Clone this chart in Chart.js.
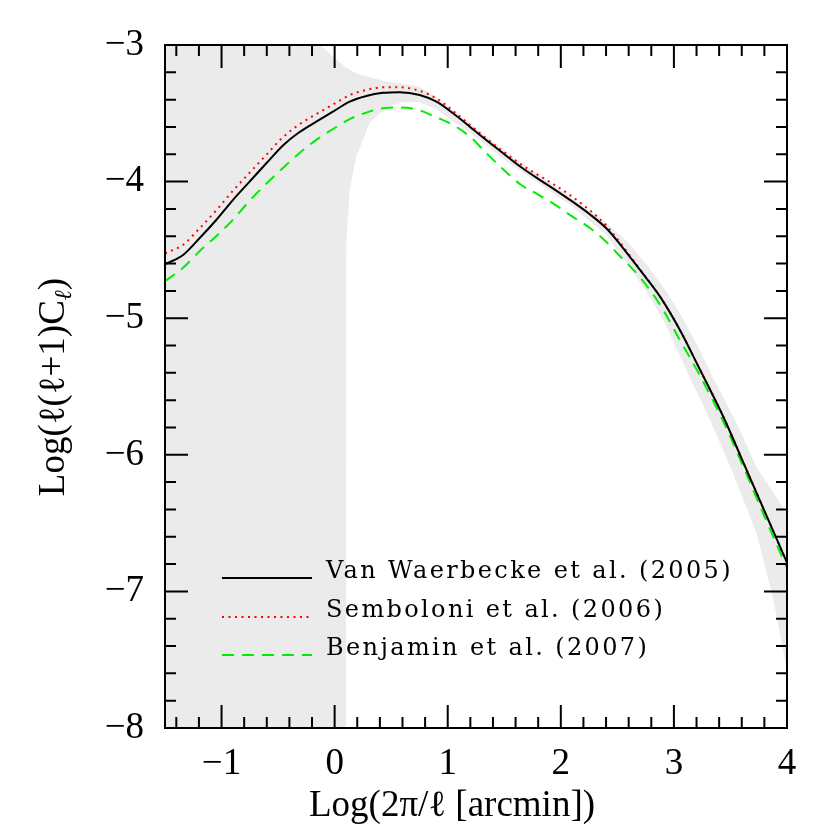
<!DOCTYPE html>
<html>
<head>
<meta charset="utf-8">
<script src="https://cdn.jsdelivr.net/npm/chart.js@4.4.1/dist/chart.umd.min.js"></script>
<style>
  html, body { margin: 0; padding: 0; background: #fff; }
</style>
</head>
<body>
<canvas id="cl" width="830" height="830"></canvas>
<script>
// Log(2pi/l) positions shared by the three model curves
const logTheta = [-1.5, -1.34, -1.195, -1.047, -0.9, -0.752, -0.604, -0.457, -0.31, -0.162, -0.015, 0.133, 0.28, 0.427, 0.575,
                  0.752, 0.9, 1.047, 1.195, 1.34, 1.49, 1.65, 1.8, 1.95, 2.1, 2.25, 2.4, 2.522, 2.7, 2.876, 3.053, 3.23,
                  3.45, 3.6, 3.8, 4.0];

const vanWaerbecke = [-4.605, -4.537, -4.415, -4.281, -4.135, -4.00, -3.866, -3.735, -3.637, -3.561, -3.488, -3.415, -3.373, -3.35, -3.345,
                      -3.366, -3.415, -3.50, -3.598, -3.695, -3.793, -3.895, -3.98, -4.06, -4.145, -4.235, -4.34, -4.457, -4.647, -4.84, -5.086, -5.376,
                      -5.745, -6.03, -6.41, -6.79];

const semboloni = [-4.525, -4.462, -4.343, -4.211, -4.068, -3.935, -3.804, -3.675, -3.58, -3.506, -3.436, -3.367, -3.329, -3.31, -3.309,
                   -3.336, -3.391, -3.482, -3.584, -3.683, -3.779, -3.875, -3.952, -4.027, -4.11, -4.205, -4.32, -4.445, -4.642, -4.84, -5.086, -5.376,
                   -5.745, -6.03, -6.41, -6.79];

const benjamin = [-4.73, -4.63, -4.51, -4.40, -4.28, -4.14, -4.015, -3.90, -3.79, -3.695, -3.615, -3.543, -3.495, -3.463, -3.458,
                  -3.478, -3.53, -3.585, -3.67, -3.79, -3.91, -4.025, -4.095, -4.17, -4.255, -4.335, -4.44, -4.545, -4.70, -4.90, -5.16, -5.42,
                  -5.78, -6.06, -6.45, -6.83];

// grey allowed region: upper edge left->right, then lower edge right->left
const bandX = [-1.5, -0.13, -0.015, 0.1, 0.2, 0.3, 0.45, 0.6, 0.75, 0.9, 1.0, 1.2, 1.5, 1.8, 2.1, 2.4, 2.6, 2.77, 2.93, 3.08, 3.22, 3.36, 3.55, 3.73, 4.0,
               4.0, 3.88, 3.73, 3.5, 3.32, 3.11, 2.905, 2.76, 2.625, 2.4, 2.1, 1.8, 1.5, 1.2, 1.0, 0.9, 0.75, 0.6, 0.46, 0.31, 0.19, 0.133, 0.104, 0.1, -1.5];
const bandY = [-3, -3, -3.086, -3.165, -3.21, -3.232, -3.268, -3.283, -3.305, -3.38, -3.45, -3.575, -3.77, -3.95, -4.12, -4.30, -4.45, -4.62, -4.80, -5.0, -5.22, -5.46, -5.76, -6.09, -6.43,
               -7.58, -7.06, -6.57, -6.09, -5.745, -5.38, -5.01, -4.81, -4.647, -4.39, -4.18, -4.01, -3.84, -3.64, -3.53, -3.47, -3.42, -3.42, -3.45, -3.57, -3.82, -4.06, -4.43, -8, -8];

const seriesNames = ['Van Waerbecke et al. (2005)', 'Semboloni et al. (2006)', 'Benjamin et al. (2007)'];

const xTicks = [-1, 0, 1, 2, 3, 4];
const yTicks = [-8, -7, -6, -5, -4, -3];

function pts(xs, ys) {
    return xs.map((x, i) => ({ x: x, y: ys[i] }));
}

function minus(v) {
    return v < 0 ? '\u2212' + Math.abs(v) : String(v);
}

const SERIF = '"Liberation Serif", "DejaVu Serif", serif';

// frame with inward ticks on the four sides
const frameTicks = {
    id: 'frameTicks',
    afterDatasetsDraw(chart) {
        const ctx = chart.ctx;
        const a = chart.chartArea;
        const xs = chart.scales.x, ys = chart.scales.y;
        ctx.save();
        ctx.strokeStyle = '#000';
        ctx.lineWidth = 2;
        ctx.strokeRect(a.left, a.top, a.right - a.left, a.bottom - a.top);
        ctx.beginPath();
        for (let k = -7; k <= 20; k++) {
            const px = xs.getPixelForValue(k / 5);
            const len = (k % 5 === 0) ? 23 : 11;
            ctx.moveTo(px, a.bottom); ctx.lineTo(px, a.bottom - len);
            ctx.moveTo(px, a.top); ctx.lineTo(px, a.top + len);
        }
        for (let k = -39; k <= -16; k++) {
            const py = ys.getPixelForValue(k / 5);
            const len = (k % 5 === 0) ? 23 : 11;
            ctx.moveTo(a.left, py); ctx.lineTo(a.left + len, py);
            ctx.moveTo(a.right, py); ctx.lineTo(a.right - len, py);
        }
        ctx.stroke();
        ctx.restore();
    }
};

// axis titles and the in-plot legend
const annotate = {
    id: 'annotate',
    afterDraw(chart) {
        const ctx = chart.ctx;
        ctx.save();
        ctx.fillStyle = '#000';

        // x title
        ctx.font = '37px ' + SERIF;
        ctx.textAlign = 'center';
        ctx.textBaseline = 'alphabetic';
        ctx.fillText('Log(2\u03c0/\u2113 [arcmin])', 452, 816);

        // y title, rotated, with subscript l
        ctx.translate(64, 387);
        ctx.rotate(-Math.PI / 2);
        const main = 'Log(\u2113(\u2113+1)C';
        ctx.font = '37px ' + SERIF;
        const w1 = ctx.measureText(main).width;
        ctx.font = 'italic 24px ' + SERIF;
        const w2 = ctx.measureText('\u2113').width;
        ctx.font = '37px ' + SERIF;
        const w3 = ctx.measureText(')').width;
        const x0 = -(w1 + w2 + w3) / 2;
        ctx.textAlign = 'left';
        ctx.fillText(main, x0, 0);
        ctx.font = 'italic 24px ' + SERIF;
        ctx.fillText('\u2113', x0 + w1, 7);
        ctx.font = '37px ' + SERIF;
        ctx.fillText(')', x0 + w1 + w2, 0);
        ctx.setTransform(1, 0, 0, 1, 0, 0);

        // legend
        const rows = [578, 617, 655];
        const lx0 = 222, lx1 = 312, tx = 326;
        chart.data.datasets.slice(0, 3).forEach((ds, i) => {
            ctx.beginPath();
            ctx.strokeStyle = ds.borderColor;
            ctx.lineWidth = ds.borderWidth;
            ctx.setLineDash(ds.borderDash || []);
            ctx.moveTo(lx0, rows[i]);
            ctx.lineTo(lx1, rows[i]);
            ctx.stroke();
        });
        ctx.setLineDash([]);
        ctx.font = '24px "DejaVu Serif", serif';
        ctx.textAlign = 'left';
        ctx.textBaseline = 'alphabetic';
        const natural = ctx.measureText(seriesNames[0]).width;
        ctx.letterSpacing = ((407 - natural) / seriesNames[0].length).toFixed(2) + 'px';
        seriesNames.forEach((name, i) => {
            ctx.fillText(name, tx, rows[i]);
        });
        ctx.restore();
    }
};

new Chart(document.getElementById('cl'), {
    type: 'line',
    data: {
        datasets: [
            {
                label: seriesNames[0],
                data: pts(logTheta, vanWaerbecke),
                borderColor: '#000000',
                borderWidth: 2,
                pointRadius: 0,
                cubicInterpolationMode: 'monotone',
                fill: false,
                order: 1
            },
            {
                label: seriesNames[1],
                data: pts(logTheta, semboloni),
                borderColor: '#ff0000',
                borderWidth: 2,
                borderDash: [2, 4.5],
                pointRadius: 0,
                cubicInterpolationMode: 'monotone',
                fill: false,
                order: 2
            },
            {
                label: seriesNames[2],
                data: pts(logTheta, benjamin),
                borderColor: '#00ee00',
                borderWidth: 2,
                borderDash: [12, 8],
                pointRadius: 0,
                cubicInterpolationMode: 'monotone',
                fill: false,
                order: 3
            },
            {
                label: 'band',
                data: pts(bandX, bandY),
                borderWidth: 0,
                borderColor: 'rgba(0,0,0,0)',
                backgroundColor: '#ebebeb',
                pointRadius: 0,
                tension: 0,
                fill: 'shape',
                order: 4
            }
        ]
    },
    options: {
        responsive: false,
        animation: false,
        devicePixelRatio: 1,
        layout: { padding: { top: 45, right: 43, left: 0, bottom: 0 } },
        plugins: {
            legend: { display: false },
            tooltip: { enabled: false }
        },
        scales: {
            x: {
                type: 'linear',
                min: -1.5,
                max: 4,
                grid: { display: false, drawTicks: false },
                border: { display: false },
                afterFit(scale) { scale.height = 102; },
                afterBuildTicks(scale) { scale.ticks = xTicks.map(v => ({ value: v })); },
                ticks: {
                    color: '#000',
                    padding: 14,
                    maxRotation: 0,
                    font: { family: SERIF, size: 37 },
                    callback: v => minus(v)
                }
            },
            y: {
                type: 'linear',
                min: -8,
                max: -3,
                grid: { display: false, drawTicks: false },
                border: { display: false },
                afterFit(scale) { scale.width = 165; },
                afterBuildTicks(scale) { scale.ticks = yTicks.map(v => ({ value: v })); },
                ticks: {
                    color: '#000',
                    padding: 21,
                    font: { family: SERIF, size: 37 },
                    callback: v => minus(v)
                }
            }
        }
    },
    plugins: [frameTicks, annotate]
});
</script>
</body>
</html>
